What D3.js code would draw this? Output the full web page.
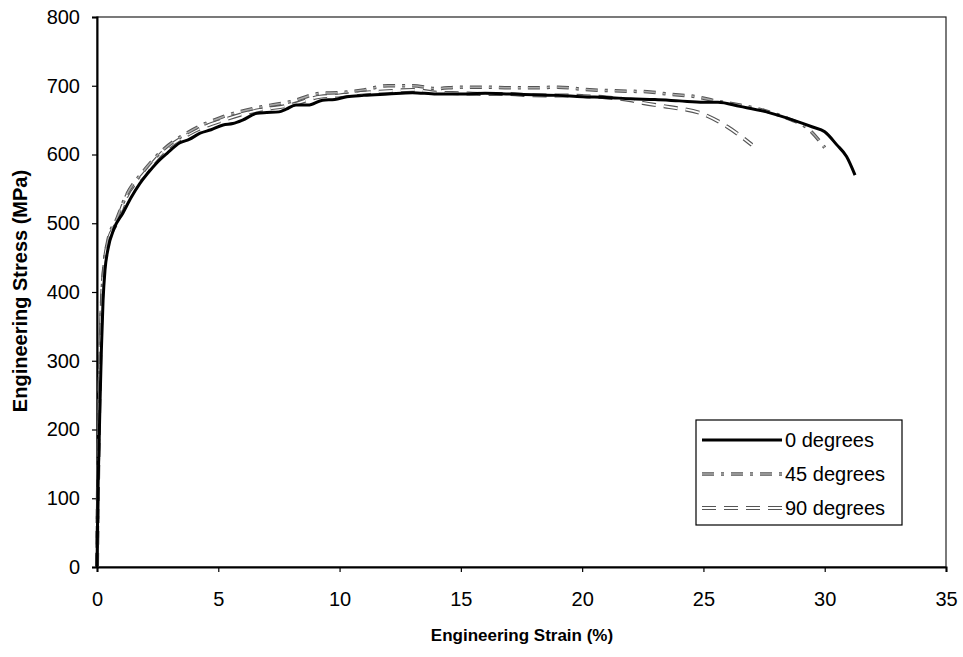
<!DOCTYPE html>
<html><head><meta charset="utf-8">
<script src="https://cdn.jsdelivr.net/npm/d3@7"></script>
<style>body{margin:0;background:#fff}svg{display:block}</style>
</head><body>
<svg id="c" width="963" height="657"></svg>
<script>
const xTicks = [0,5,10,15,20,25,30,35];
const yTicks = [0,100,200,300,400,500,600,700,800];
const seriesNames = ["0 degrees","45 degrees","90 degrees"];

const strain0 = [0,0.02,0.04,0.08,0.12,0.18,0.25,0.33,0.45,0.7,1.07,1.4,1.77,2.1,2.47,2.9,3.42,3.8,4.25,4.7,5.2,5.6,6.0,6.6,7.0,7.5,7.8,8.2,8.7,9.3,9.8,10.3,11,12,13,14,15,16,17,18,19,20,21,22,23,24,25,25.6,26.5,27.6,28.7,29.5,30,30.5,30.9,31.25];
const stress0 = [0,55,108,170,233,315,388,432,462,492,515,537,558,573,588,602,617,622,631,636,643,645,650,660,661,662,666,672,672,679,680,684,686,688,690,688,688,689,688,687,686,684,683,681,680,678,676,676,670,662,650,640,633,614,597,570];

const strain45 = [0,0.04,0.1,0.2,0.3,0.45,0.8,1.2,1.9,2.7,3.8,5.2,6.6,8,9.2,10,11,12,13,14,15,16,17,18,19,20,21,22,22.8,23.5,24.7,25.5,26.5,27.5,28.5,29.3,30];
const stress45 = [0,120,260,390,440,475,505,540,575,606,633,655,668,677,689,690,694,700,700,696,698,698,697,697,698,695,693,692,691,688,684,678,672,664,652,638,610];

const strain90 = [0,0.04,0.1,0.2,0.3,0.45,0.8,1.2,1.9,2.7,3.8,5.2,6.6,8,9.2,10,11,12,13,14,15,16,17,18,19,20,21,22,22.5,23.6,24.9,26,27];
const stress90 = [0,115,250,385,438,472,500,538,570,603,630,650,664,672,684,686,690,692,694,690,689,688,688,686,686,685,683,679,675,669,660,640,614];

const svg = d3.select("#c");
const L=97,R=946,T=17,B=567;
const x = d3.scaleLinear().domain([0,35]).range([L,R]);
const y = d3.scaleLinear().domain([0,800]).range([B,T]);
const font = "'Liberation Sans', Arial, sans-serif";

svg.append("rect").attr("x",L).attr("y",T).attr("width",R-L).attr("height",B-T)
  .attr("fill","#fff").attr("stroke","#222").attr("stroke-width",1.2);

const gx = svg.append("g").attr("transform",`translate(0,${B})`)
  .call(d3.axisBottom(x).tickValues(xTicks).tickSize(5).tickPadding(20).tickFormat(d3.format("d")));
const gy = svg.append("g").attr("transform",`translate(${L},0)`)
  .call(d3.axisLeft(y).tickValues(yTicks).tickSize(5).tickPadding(12).tickFormat(d3.format("d")));
[gx,gy].forEach(g=>{
  g.select(".domain").attr("stroke","#000").attr("stroke-width",2);
  g.selectAll(".tick line").attr("stroke","#000").attr("stroke-width",1.2);
  g.selectAll(".tick text").attr("font-family",font).attr("font-size",20).attr("fill","#000");
});

svg.append("text").attr("x",522).attr("y",641).attr("text-anchor","middle")
  .attr("font-family",font).attr("font-size",17).attr("font-weight","bold").text("Engineering Strain (%)");
svg.append("text").attr("transform",`translate(27,291) rotate(-90)`).attr("text-anchor","middle")
  .attr("font-family",font).attr("font-size",20).attr("font-weight","bold").text("Engineering Stress (MPa)");

const line = d3.line().x(d=>x(d[0])).y(d=>y(d[1])).curve(d3.curveMonotoneX);
const d0 = d3.zip(strain0,stress0), d45 = d3.zip(strain45,stress45), d90 = d3.zip(strain90,stress90);
const plot = svg.append("g");

// 90 degrees: hollow long dashes
plot.append("path").datum(d90).attr("d",line).attr("fill","none")
  .attr("stroke","#555").attr("stroke-width",4).attr("stroke-dasharray","14,8");
plot.append("path").datum(d90).attr("d",line).attr("fill","none")
  .attr("stroke","#fff").attr("stroke-width",1.8).attr("stroke-dasharray","14,8");
// 45 degrees: dash-dot
plot.append("path").datum(d45).attr("d",line).attr("fill","none")
  .attr("stroke","#555").attr("stroke-width",3.5).attr("stroke-dasharray","12,7,3,7");
plot.append("path").datum(d45).attr("d",line).attr("fill","none")
  .attr("stroke","#aaa").attr("stroke-width",1.5).attr("stroke-dasharray","12,7,3,7");
// 0 degrees: solid
plot.append("path").datum(d0).attr("d",line).attr("fill","none")
  .attr("stroke","#000").attr("stroke-width",3);

// legend
const lg = svg.append("g");
lg.append("rect").attr("x",696).attr("y",420).attr("width",206).attr("height",105)
  .attr("fill","#fff").attr("stroke","#000").attr("stroke-width",1.2);
const rows=[440,474,508];
const styles=[
  [{s:"#000",w:3,d:null}],
  [{s:"#555",w:3.5,d:"12,7,3,7"},{s:"#aaa",w:1.5,d:"12,7,3,7"}],
  [{s:"#555",w:4,d:"14,8"},{s:"#fff",w:1.8,d:"14,8"}]
];
seriesNames.forEach((n,i)=>{
  styles[i].forEach(st=>{
    lg.append("line").attr("x1",702).attr("x2",782).attr("y1",rows[i]).attr("y2",rows[i])
      .attr("stroke",st.s).attr("stroke-width",st.w).attr("stroke-dasharray",st.d);
  });
  lg.append("text").attr("x",785).attr("y",rows[i]+7).attr("font-family",font).attr("font-size",20).text(n);
});
</script>
</body></html>
